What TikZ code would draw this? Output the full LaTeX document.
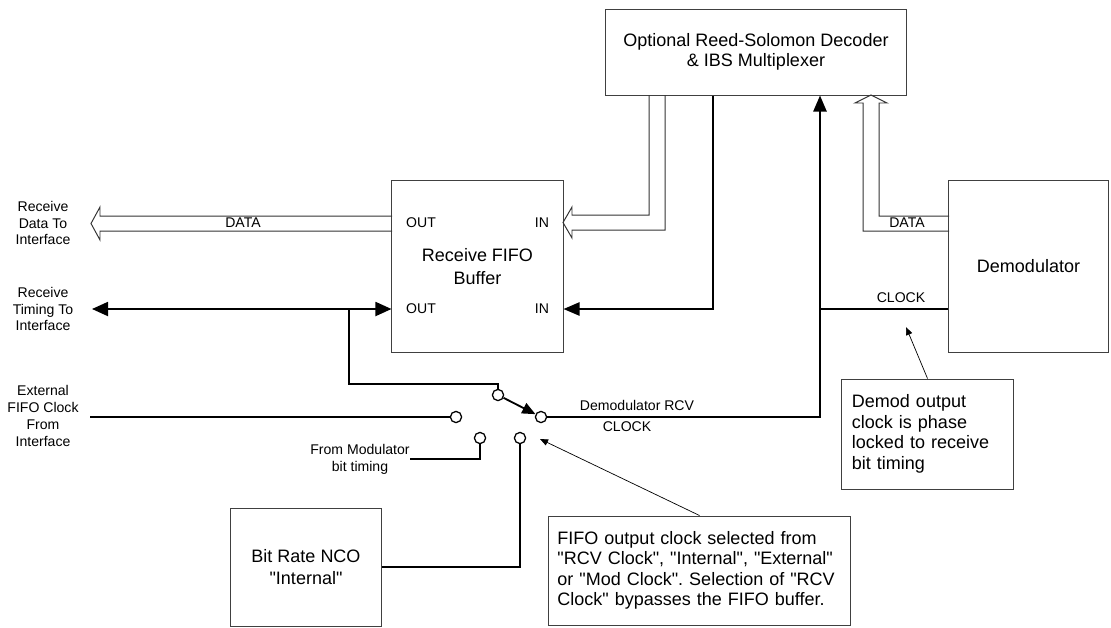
\documentclass[tikz,border=0pt]{standalone}
\usepackage{fontspec}
\setmainfont{Liberation Sans}
\usetikzlibrary{arrows.meta}
\frenchspacing
\newcommand{\dq}{\textquotedbl}

\begin{document}
\begin{tikzpicture}[
  x=0.025cm, y=-0.025cm,
  font=\fontsize{10}{12}\selectfont,
  block/.style={draw=black!75, line width=0.7pt, align=center, inner sep=0pt, font=\fontsize{12.8}{16}\selectfont},
  remark/.style={draw=black!75, line width=0.7pt, align=left, inner ysep=0pt, font=\fontsize{12.8}{14.6}\selectfont},
  contact/.style={circle, draw, fill=white, line width=0.9pt, minimum size=0.28cm, inner sep=0pt},
  wire/.style={line width=1.3pt},
  sig/.style={wire, -{Triangle[length=0.4cm, width=0.33cm]}},
  bus/.style={draw=black!80, line width=0.7pt},
  pointer/.style={line width=0.5pt, -{Triangle[length=0.2cm, width=0.16cm]}}
]
\useasboundingbox (0,0) rectangle (1111,627);

% Blocks
\node[block, minimum width=7.5cm, minimum height=2.15cm] (rs) at (756,52) {Optional Reed-Solomon Decoder\\[-2pt]\& IBS Multiplexer};
\node[block, minimum width=4.275cm, minimum height=4.275cm] (fifo) at (477.5,266.5) {Receive FIFO\\Buffer};
\node[block, minimum width=3.975cm, minimum height=4.275cm] (demod) at (1028.5,266.5) {Demodulator};
\node[block, minimum width=3.75cm, minimum height=2.95cm] (nco) at (306,567) {Bit Rate NCO\\\dq Internal\dq};

% Notes
\node[remark, text width=3.775cm, inner xsep=0.25cm, minimum height=2.75cm] (demodnote) at (927.5,434)
  {Demod output\\clock is phase\\locked to receive\\bit timing};
\node[remark, text width=7.1cm, inner xsep=0.2125cm, minimum height=2.725cm] (fifonote) at (699.5,570.5)
  {FIFO output clock selected from\\\dq RCV Clock\dq, \dq Internal\dq, \dq External\dq\\or \dq Mod Clock\dq. Selection of \dq RCV\\Clock\dq\ bypasses the FIFO buffer.};

% Port labels
\node at (421,223) {OUT};
\node at (542,223) {IN};
\node at (421,309) {OUT};
\node at (542,309) {IN};

% Interface labels
\node[align=center] (datalbl) at (43,223) {Receive\\Data To\\Interface};
\node[align=center] (tmglbl) at (43,309) {Receive\\Timing To\\Interface};
\node[align=center] (extlbl) at (43,416) {External\\FIFO Clock\\From\\Interface};

% Switch contacts
\node[contact] (swpole) at (498,395) {};
\node[contact] (swext) at (456,417) {};
\node[contact] (swrcv) at (541,417) {};
\node[contact] (swmod) at (480,438) {};
\node[contact] (swint) at (520,438) {};

% Helper points
\coordinate (tmgend) at (92,309);
\coordinate (tap) at (349,309);
\coordinate (poleup) at (498,384);
\coordinate (extin) at (90,417);
\coordinate (modin) at (410,459);
\coordinate (clkx) at (820,0);
\coordinate (clkjoin) at (820,309);
\coordinate (rsclk) at (713,0);
\coordinate (clkrow) at (0,309);
\coordinate (dmark) at (906,327);
\coordinate (fmark) at (540,439);

% Data buses (hollow)
\draw[bus] (392,216) -- (100,216) -- (100,207) -- (91,223.5) -- (100,240) -- (100,231) -- (392,231);
\draw[bus] (649,95) -- (649,215) -- (572,215) -- (572,207) -- (563,222.5) -- (572,238) -- (572,230) -- (665,230) -- (665,95);
\draw[bus] (949,216) -- (879,216) -- (879,103) -- (887,103) -- (871,95) -- (855,103) -- (863,103) -- (863,231) -- (949,231);
\node at (243,223) {DATA};
\node at (907,223) {DATA};

% Clocks
\draw[wire, {Triangle[length=0.4cm, width=0.35cm]}-{Triangle[length=0.4cm, width=0.35cm]}] (tmgend) -- (fifo.west |- tmgend);
\draw[wire] (tap) |- (poleup) -- (swpole);
\draw[wire] (extin) -- (swext);
\draw[wire, -{Triangle[length=0.33cm, width=0.28cm]}] (swpole) -- (swrcv);
\draw[wire] (modin) -| (swmod);
\draw[wire] (nco.east) -| (swint);
\draw[sig] (swrcv) -| (clkx |- rs.south);
\draw[wire] (clkjoin) -- (clkjoin -| demod.west);
\draw[sig] (rsclk |- rs.south) |- (fifo.east |- clkrow);
\node at (901,298) {CLOCK};
\node at (637,405) {Demodulator RCV};
\node at (627,427) {CLOCK};
\node[align=center] at (360,459) {From Modulator\\bit timing};

% Pointers
\draw[pointer] (demodnote.north) -- (dmark);
\draw[pointer] (fifonote.north) -- (fmark);

\end{tikzpicture}
\end{document}
